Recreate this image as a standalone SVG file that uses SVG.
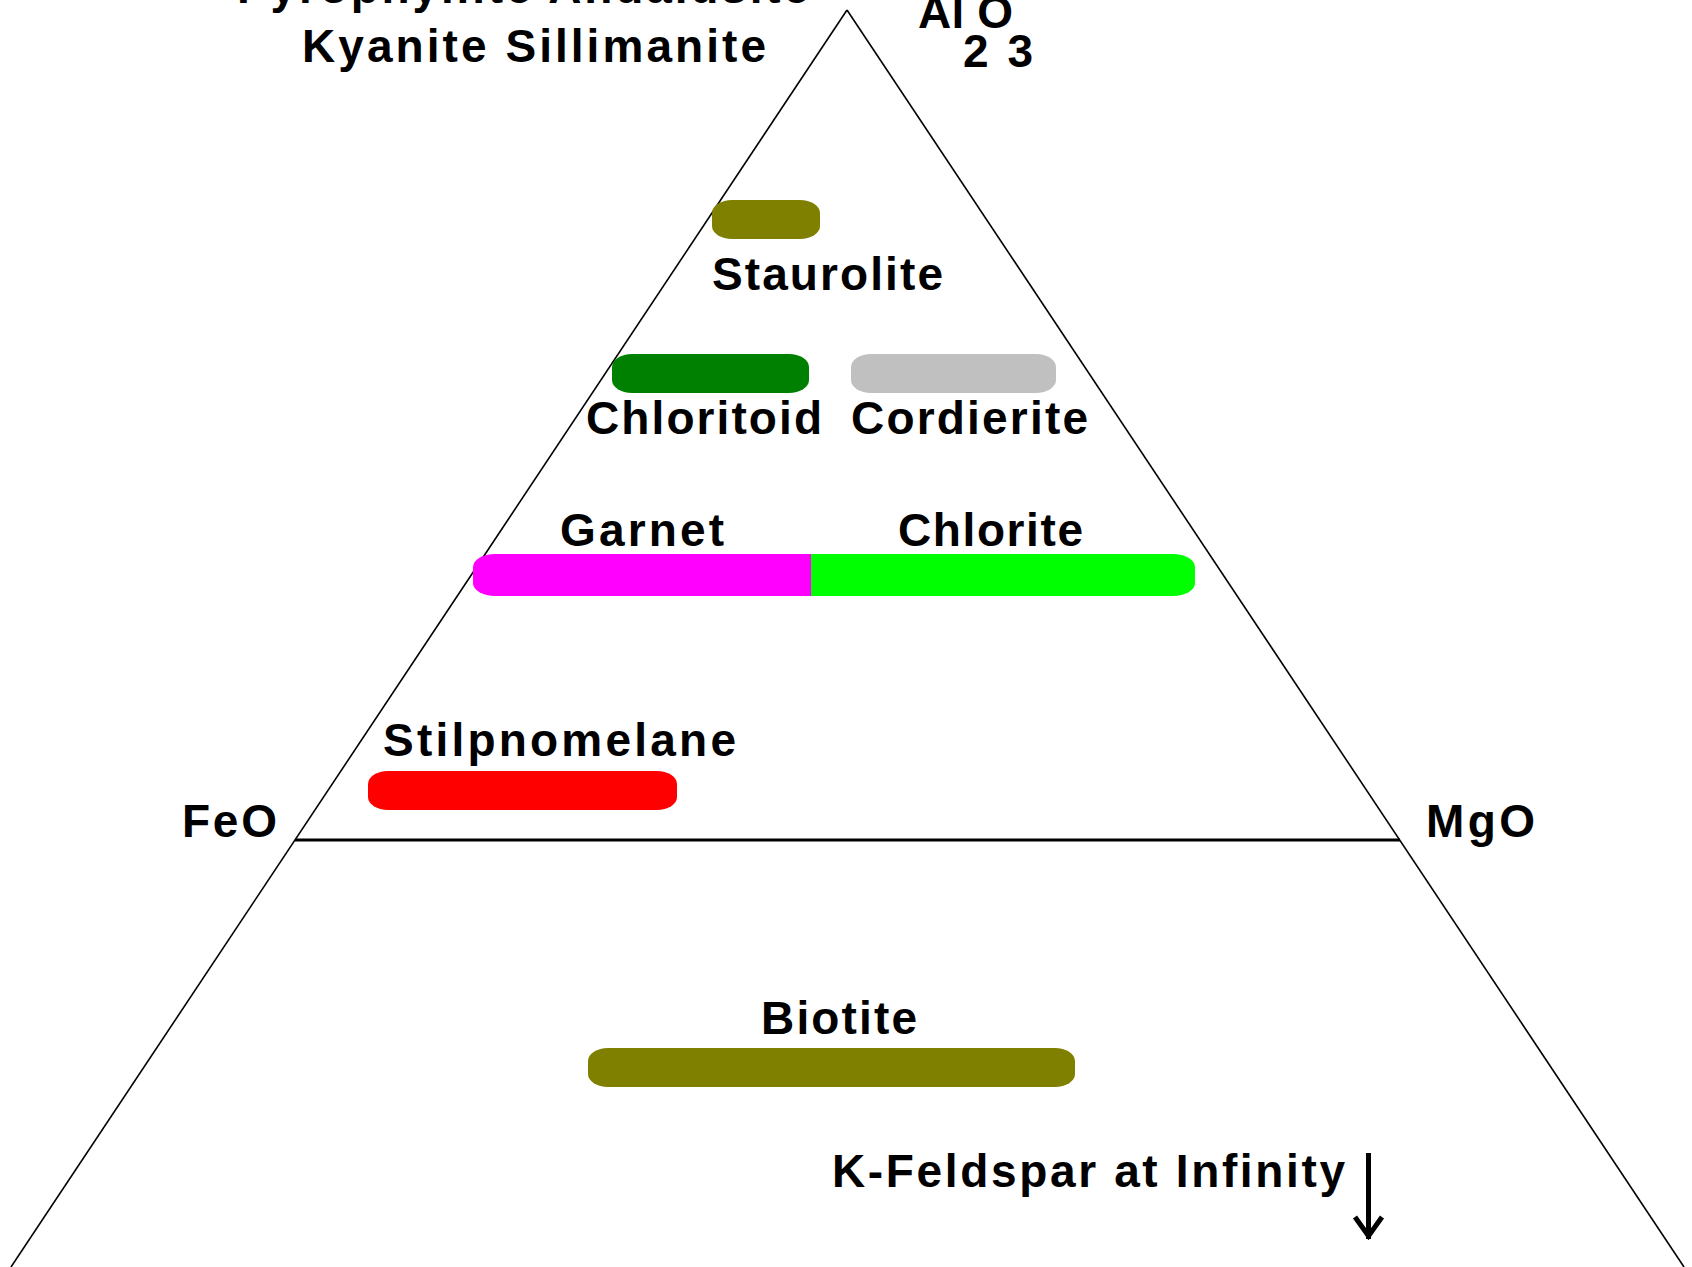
<svg xmlns="http://www.w3.org/2000/svg" width="1692" height="1267" viewBox="0 0 1692 1267">
<style>
text{font-family:"Liberation Sans",Arial,sans-serif;font-weight:bold;font-size:46px;fill:#000}
.side{stroke:#000;stroke-width:1.6;fill:none}
.base{stroke:#000;stroke-width:3;fill:none}
</style>
<rect width="1692" height="1267" fill="#fff"/>
<g id="connectors">
<line class="side" x1="847" y1="10" x2="11" y2="1267"/>
<line class="side" x1="847" y1="10" x2="1684" y2="1267"/>
<line class="base" x1="295" y1="840" x2="1400" y2="840"/>
</g>
<g id="apex-labels">
<text x="237" y="3" textLength="572" lengthAdjust="spacing">Pyrophyllite Andalusite</text>
<text x="302" y="62" textLength="464" lengthAdjust="spacing">Kyanite Sillimanite</text>
<text x="918" y="28" textLength="95" lengthAdjust="spacing">Al O</text>
<text x="963" y="67" textLength="70" lengthAdjust="spacing">2 3</text>
</g>
<g id="feo"><text x="182" y="837" textLength="95" lengthAdjust="spacing">FeO</text></g>
<g id="mgo"><text x="1426" y="837" textLength="109" lengthAdjust="spacing">MgO</text></g>
<g id="staurolite">
<rect x="712" y="200" width="108" height="39" rx="20" ry="13" fill="#808000"/>
<text x="712" y="290" textLength="231" lengthAdjust="spacing">Staurolite</text>
</g>
<g id="chloritoid">
<rect x="612" y="354" width="197" height="39" rx="20" ry="13" fill="#008000"/>
<text x="586" y="434" textLength="236" lengthAdjust="spacing">Chloritoid</text>
</g>
<g id="cordierite">
<rect x="851" y="354" width="205" height="39" rx="20" ry="13" fill="#c0c0c0"/>
<text x="851" y="434" textLength="237" lengthAdjust="spacing">Cordierite</text>
</g>
<g id="garnet">
<path d="M811,554 H495 A22,13 0 0 0 473,567 V583 A22,13 0 0 0 495,596 H811 Z" fill="#ff00ff"/>
<text x="560" y="546" textLength="164" lengthAdjust="spacing">Garnet</text>
</g>
<g id="chlorite">
<path d="M811,554 H1173 A22,13 0 0 1 1195,567 V583 A22,13 0 0 1 1173,596 H811 Z" fill="#00ff00"/>
<text x="898" y="546" textLength="185" lengthAdjust="spacing">Chlorite</text>
</g>
<g id="stilpnomelane">
<rect x="368" y="771" width="309" height="39" rx="20" ry="13" fill="#ff0000"/>
<text x="383" y="756" textLength="353" lengthAdjust="spacing">Stilpnomelane</text>
</g>
<g id="biotite">
<rect x="588" y="1048" width="487" height="39" rx="20" ry="13" fill="#808000"/>
<text x="761" y="1034" textLength="156" lengthAdjust="spacing">Biotite</text>
</g>
<g id="kfeldspar">
<text x="832" y="1187" textLength="513" lengthAdjust="spacing">K-Feldspar at Infinity</text>
<rect x="1366" y="1153" width="5" height="86"/>
<polyline points="1355,1217 1368.5,1236 1382,1217" fill="none" stroke="#000" stroke-width="5"/>
</g>
</svg>
